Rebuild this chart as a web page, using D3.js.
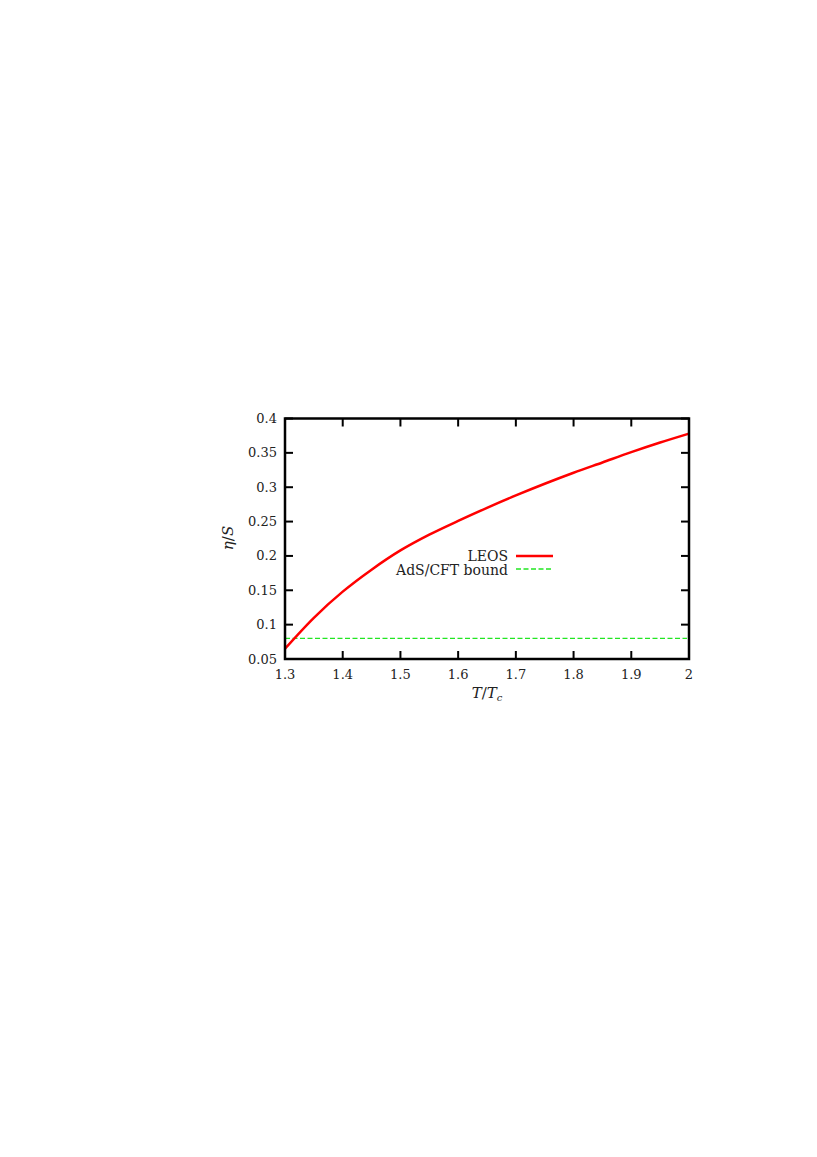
<!DOCTYPE html>
<html>
<head>
<meta charset="utf-8">
<script src="https://cdn.jsdelivr.net/npm/d3@7"></script>
<style>
  body { margin: 0; background: #fff; }
  text { font-family: "DejaVu Serif", serif; font-size: 13px; fill: #222; }
  text.big { font-size: 14px; }
  text.title { font-size: 15px; }
</style>
</head>
<body>
<svg id="chart" width="817" height="1157"></svg>
<script>
// data
var tempRatio = [1.3, 1.35, 1.4, 1.45, 1.5, 1.55, 1.6, 1.65, 1.7, 1.75, 1.8, 1.85, 1.9, 1.95, 2.0];
var etaOverS  = [0.065, 0.110, 0.148, 0.180, 0.208, 0.231, 0.251, 0.270, 0.288, 0.305, 0.321, 0.336, 0.351, 0.365, 0.378];
var boundValue = 0.08;
var xTicks = [1.3, 1.4, 1.5, 1.6, 1.7, 1.8, 1.9, 2];
var yTicks = [0.05, 0.1, 0.15, 0.2, 0.25, 0.3, 0.35, 0.4];
var legendLabels = ['LEOS', 'AdS/CFT bound'];

var svg = d3.select('#chart');

var x = d3.scaleLinear().domain([1.3, 2]).range([285, 689]);
var y = d3.scaleLinear().domain([0.05, 0.4]).range([659, 418.5]);

var fmt = function(d) { return String(d); };

// tick marks on all four sides, pointing inwards
var tl = 8;
var axes = svg.append('g').attr('stroke', '#000').attr('stroke-width', 2);
axes.selectAll('line.xb').data(xTicks).enter().append('line')
    .attr('x1', x).attr('x2', x).attr('y1', y(0.05)).attr('y2', y(0.05) - tl);
axes.selectAll('line.xt').data(xTicks).enter().append('line')
    .attr('x1', x).attr('x2', x).attr('y1', y(0.4)).attr('y2', y(0.4) + tl);
axes.selectAll('line.yl').data(yTicks).enter().append('line')
    .attr('x1', x(1.3)).attr('x2', x(1.3) + tl).attr('y1', y).attr('y2', y);
axes.selectAll('line.yr').data(yTicks).enter().append('line')
    .attr('x1', x(2)).attr('x2', x(2) - tl).attr('y1', y).attr('y2', y);

// tick labels
svg.selectAll('text.xl').data(xTicks).enter().append('text')
    .attr('x', x).attr('y', 679)
    .attr('text-anchor', 'middle')
    .text(fmt);
svg.selectAll('text.yl').data(yTicks).enter().append('text')
    .attr('x', 277).attr('y', function(d) { return y(d) + 4.5; })
    .attr('text-anchor', 'end')
    .text(fmt);

// bound line
svg.append('line')
    .attr('x1', x(1.3)).attr('x2', x(2) - 2)
    .attr('y1', y(boundValue)).attr('y2', y(boundValue))
    .attr('stroke', '#22e622').attr('stroke-width', 1.3)
    .attr('stroke-dasharray', '5,2.5');

// LEOS curve
var line = d3.line()
    .x(function(d) { return x(d[0]); })
    .y(function(d) { return y(d[1]); })
    .curve(d3.curveCatmullRom);
svg.append('path')
    .datum(d3.zip(tempRatio, etaOverS))
    .attr('d', line)
    .attr('fill', 'none')
    .attr('stroke', '#f00')
    .attr('stroke-width', 2.5);

// frame
svg.append('rect')
    .attr('x', x(1.3)).attr('y', y(0.4))
    .attr('width', x(2) - x(1.3)).attr('height', y(0.05) - y(0.4))
    .attr('fill', 'none').attr('stroke', '#000').attr('stroke-width', 2.5);

// legend
var lg = svg.append('g');
lg.append('text').attr('class', 'big').attr('x', 508).attr('y', 560.5).attr('text-anchor', 'end').text(legendLabels[0]);
lg.append('text').attr('class', 'big').attr('x', 508).attr('y', 574.5).attr('text-anchor', 'end').text(legendLabels[1]);
lg.append('line').attr('x1', 516).attr('x2', 553).attr('y1', 556).attr('y2', 556)
    .attr('stroke', '#f00').attr('stroke-width', 2.5);
lg.append('line').attr('x1', 516).attr('x2', 553).attr('y1', 569).attr('y2', 569)
    .attr('stroke', '#22e622').attr('stroke-width', 1.3).attr('stroke-dasharray', '5,2.5');

// axis titles
var xt = svg.append('text').attr('class', 'title').attr('x', 487).attr('y', 698)
    .attr('text-anchor', 'middle');
xt.append('tspan').attr('font-style', 'italic').text('T');
xt.append('tspan').text('/');
xt.append('tspan').attr('font-style', 'italic').text('T');
xt.append('tspan').attr('font-style', 'italic').style('font-size', '10px').attr('dy', 3).text('c');

var yt = svg.append('text').attr('class', 'title')
    .attr('transform', 'translate(233,538) rotate(-90)')
    .attr('text-anchor', 'middle');
yt.append('tspan').attr('font-style', 'italic').text('η');
yt.append('tspan').text('/');
yt.append('tspan').attr('font-style', 'italic').text('S');
</script>
</body>
</html>
